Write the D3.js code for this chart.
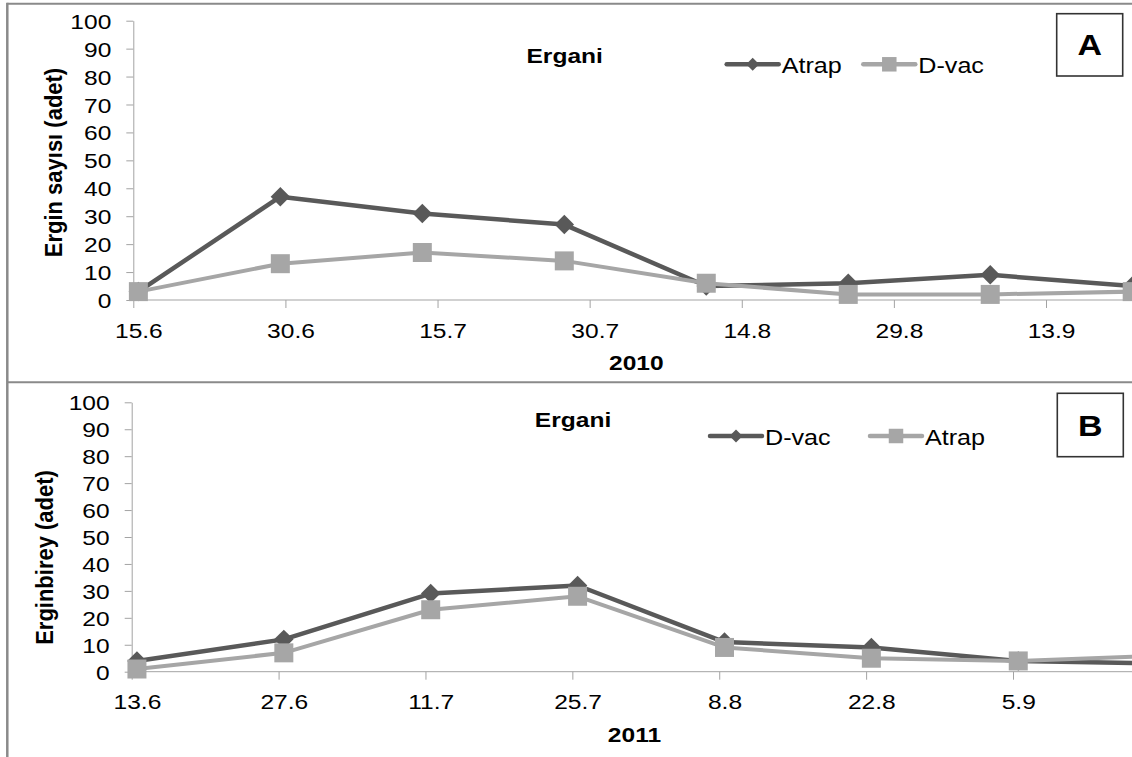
<!DOCTYPE html>
<html>
<head>
<meta charset="utf-8">
<script src="https://cdn.jsdelivr.net/npm/d3@7"></script>
<style>
  html, body { margin: 0; padding: 0; background: #fff; }
  svg { display: block; }
</style>
</head>
<body>
<div id="chart"></div>
<script>
// ---- data ----
const datesA  = ["2010-06-15", "2010-06-29", "2010-07-13", "2010-07-27", "2010-08-10", "2010-08-24", "2010-09-07", "2010-09-21"];
const atrapA  = [3, 37, 31, 27, 5, 6, 9, 5];
const dvacA   = [3, 13, 17, 14, 6, 2, 2, 3];
const ticksA  = ["2010-06-15", "2010-06-30", "2010-07-15", "2010-07-30", "2010-08-14", "2010-08-29", "2010-09-13"];

const datesB  = ["2011-06-13", "2011-06-27", "2011-07-11", "2011-07-25", "2011-08-08", "2011-08-22", "2011-09-05", "2011-09-19"];
const dvacB   = [4, 12, 29, 32, 11, 9, 4, 3];
const atrapB  = [1, 7, 23, 28, 9, 5, 4, 6];
const ticksB  = ["2011-06-13", "2011-06-27", "2011-07-11", "2011-07-25", "2011-08-08", "2011-08-22", "2011-09-05"];

const yTicks = [0, 10, 20, 30, 40, 50, 60, 70, 80, 90, 100];

// ---- setup ----
const width = 1132, height = 757;
const SX = 1.17;               // the source picture is stretched sideways
const FONT = "'Liberation Sans', Arial, sans-serif";
const DARK = "#595959", LIGHT = "#a6a6a6", AXIS = "#a3a3a3";

const parse = d3.timeParse("%Y-%m-%d");
const fmt = d3.timeFormat("%-d.%-m");
const mid = d => d3.timeHour.offset(d, 12);   // Excel puts points in the middle of the day

// rotated square, size = area
const diamond = {
    draw(ctx, size) {
        const r = Math.sqrt(size) / Math.SQRT2;
        ctx.moveTo(0, -r); ctx.lineTo(r, 0); ctx.lineTo(0, r); ctx.lineTo(-r, 0); ctx.closePath();
    }
};

const svg = d3.select("#chart").append("svg")
    .attr("width", width)
    .attr("height", height)
    .style("font-family", FONT);

// outer frame lines
svg.append("line").attr("x1", 7.3).attr("x2", width).attr("y1", 3.7).attr("y2", 3.7)
    .attr("stroke", "#8a8a8a").attr("stroke-width", 2);
svg.append("line").attr("x1", 7.3).attr("x2", 7.3).attr("y1", 2.7).attr("y2", height)
    .attr("stroke", "#8a8a8a").attr("stroke-width", 2.5);
svg.append("line").attr("x1", 7.3).attr("x2", width).attr("y1", 382.3).attr("y2", 382.3)
    .attr("stroke", "#8a8a8a").attr("stroke-width", 2);

function stretchedText(g, x, y, txt, size, weight, anchor) {
    return g.append("text")
        .attr("transform", `translate(${x},${y}) scale(${SX},1)`)
        .attr("text-anchor", anchor || "middle")
        .style("font-size", size + "px")
        .style("font-weight", weight || "normal")
        .attr("fill", "#000")
        .text(txt);
}

function drawPanel(p) {
    const g = svg.append("g");
    const dates = p.dates.map(parse);
    const ticks = p.ticks.map(parse);

    const x = d3.scaleTime()
        .domain([ticks[0], ticks[ticks.length - 1]])
        .range(p.xRange);
    const y = d3.scaleLinear().domain([0, 100]).range(p.yRange);
    const halfDay = x(mid(ticks[0])) - x(ticks[0]);

    // y axis
    const gy = g.append("g")
        .attr("transform", `translate(${p.xRange[0]},0)`)
        .call(d3.axisLeft(y).tickValues(yTicks).tickSize(7).tickSizeOuter(0));
    gy.select(".domain").attr("stroke", AXIS);
    gy.selectAll(".tick line").attr("stroke", AXIS);
    gy.selectAll(".tick text")
        .attr("x", null)
        .attr("dy", "0.36em")
        .attr("transform", `translate(-22,0) scale(${SX},1)`)
        .style("font-size", "21px")
        .style("font-family", FONT)
        .attr("fill", "#000");

    // x axis
    const gx = g.append("g")
        .attr("transform", `translate(0,${p.yRange[0]})`)
        .call(d3.axisBottom(x).tickValues(ticks).tickFormat(fmt).tickSize(8).tickSizeOuter(0));
    gx.select(".domain").remove();
    gx.append("line")
        .attr("x1", p.xRange[0]).attr("x2", width)
        .attr("stroke", AXIS);
    gx.selectAll(".tick line").attr("stroke", AXIS);
    gx.selectAll(".tick text")
        .attr("y", null)
        .attr("dy", null)
        .attr("transform", `translate(${halfDay},37.5) scale(${SX},1)`)
        .style("font-size", "21px")
        .style("font-family", FONT)
        .attr("fill", "#000");

    // series: lines and markers, later series on top
    const line = d3.line()
        .x((v, i) => x(mid(dates[i])))
        .y(v => y(v));

    p.series.forEach(s => {
        g.append("path")
            .attr("d", line(s.values))
            .attr("fill", "none")
            .attr("stroke", s.color)
            .attr("stroke-width", s.width)
            .attr("stroke-linejoin", "round");
        g.selectAll(null)
            .data(s.values)
            .enter().append("path")
            .attr("transform", (v, i) => `translate(${x(mid(dates[i]))},${y(v)})`)
            .attr("d", d3.symbol().type(s.symbol).size(s.symbolSize))
            .attr("fill", s.color);
    });

    // legend
    p.series.forEach((s, i) => {
        const lx = p.legend[i], ly = p.legendY;
        g.append("line")
            .attr("x1", lx).attr("x2", lx + 52)
            .attr("y1", ly).attr("y2", ly)
            .attr("stroke", s.color).attr("stroke-width", 4.5)
            .attr("stroke-linecap", "round");
        g.append("path")
            .attr("transform", `translate(${lx + 26},${ly})`)
            .attr("d", d3.symbol().type(s.symbol).size(s.legendSize))
            .attr("fill", s.color);
        stretchedText(g, lx + 55, ly + 8.8, s.name, 21.5, "normal", "start");
    });

    // title, year label, y label
    stretchedText(g, p.title[0], p.title[1], "Ergani", 21, "bold");
    stretchedText(g, p.year[0], p.year[1], p.yearText, 21, "bold");
    g.append("text")
        .attr("transform", `translate(${p.yLabel[0]},${p.yLabel[1]}) scale(1.1,1) rotate(-90)`)
        .attr("text-anchor", "middle")
        .style("font-size", "22px")
        .style("font-weight", "bold")
        .attr("fill", "#000")
        .text(p.yLabelText);

    // panel letter box
    g.append("rect")
        .attr("x", p.box[0]).attr("y", p.box[1])
        .attr("width", p.box[2]).attr("height", p.box[3])
        .attr("fill", "#fff").attr("stroke", "#333").attr("stroke-width", 1.6);
    stretchedText(g, p.box[0] + p.box[2] / 2, p.box[1] + p.box[3] / 2 + 10.5, p.letter, 29, "bold");
}

drawPanel({
    dates: datesA, ticks: ticksA,
    xRange: [133.3, 1046], yRange: [300, 20.7],
    series: [
        { name: "Atrap", values: atrapA, color: DARK, width: 4.5, symbol: diamond, symbolSize: 190, legendSize: 85 },
        { name: "D-vac", values: dvacA, color: LIGHT, width: 4, symbol: d3.symbolSquare, symbolSize: 361, legendSize: 210 }
    ],
    legend: [726.7, 863.3], legendY: 64.3,
    title: [564.7, 63.3],
    year: [636.3, 370], yearText: "2010",
    yLabel: [61.7, 162.5], yLabelText: "Ergin sayısı (adet)",
    box: [1056.7, 13.7, 66, 62.3], letter: "A"
});

drawPanel({
    dates: datesB, ticks: ticksB,
    xRange: [131.7, 1013], yRange: [671.7, 402.3],
    series: [
        { name: "D-vac", values: dvacB, color: DARK, width: 4.5, symbol: diamond, symbolSize: 190, legendSize: 85 },
        { name: "Atrap", values: atrapB, color: LIGHT, width: 4, symbol: d3.symbolSquare, symbolSize: 361, legendSize: 210 }
    ],
    legend: [710, 870], legendY: 436,
    title: [573, 427.3],
    year: [634.5, 741.7], yearText: "2011",
    yLabel: [53.3, 557.5], yLabelText: "Erginbirey (adet)",
    box: [1057.3, 393.3, 66, 63.4], letter: "B"
});
</script>
</body>
</html>
